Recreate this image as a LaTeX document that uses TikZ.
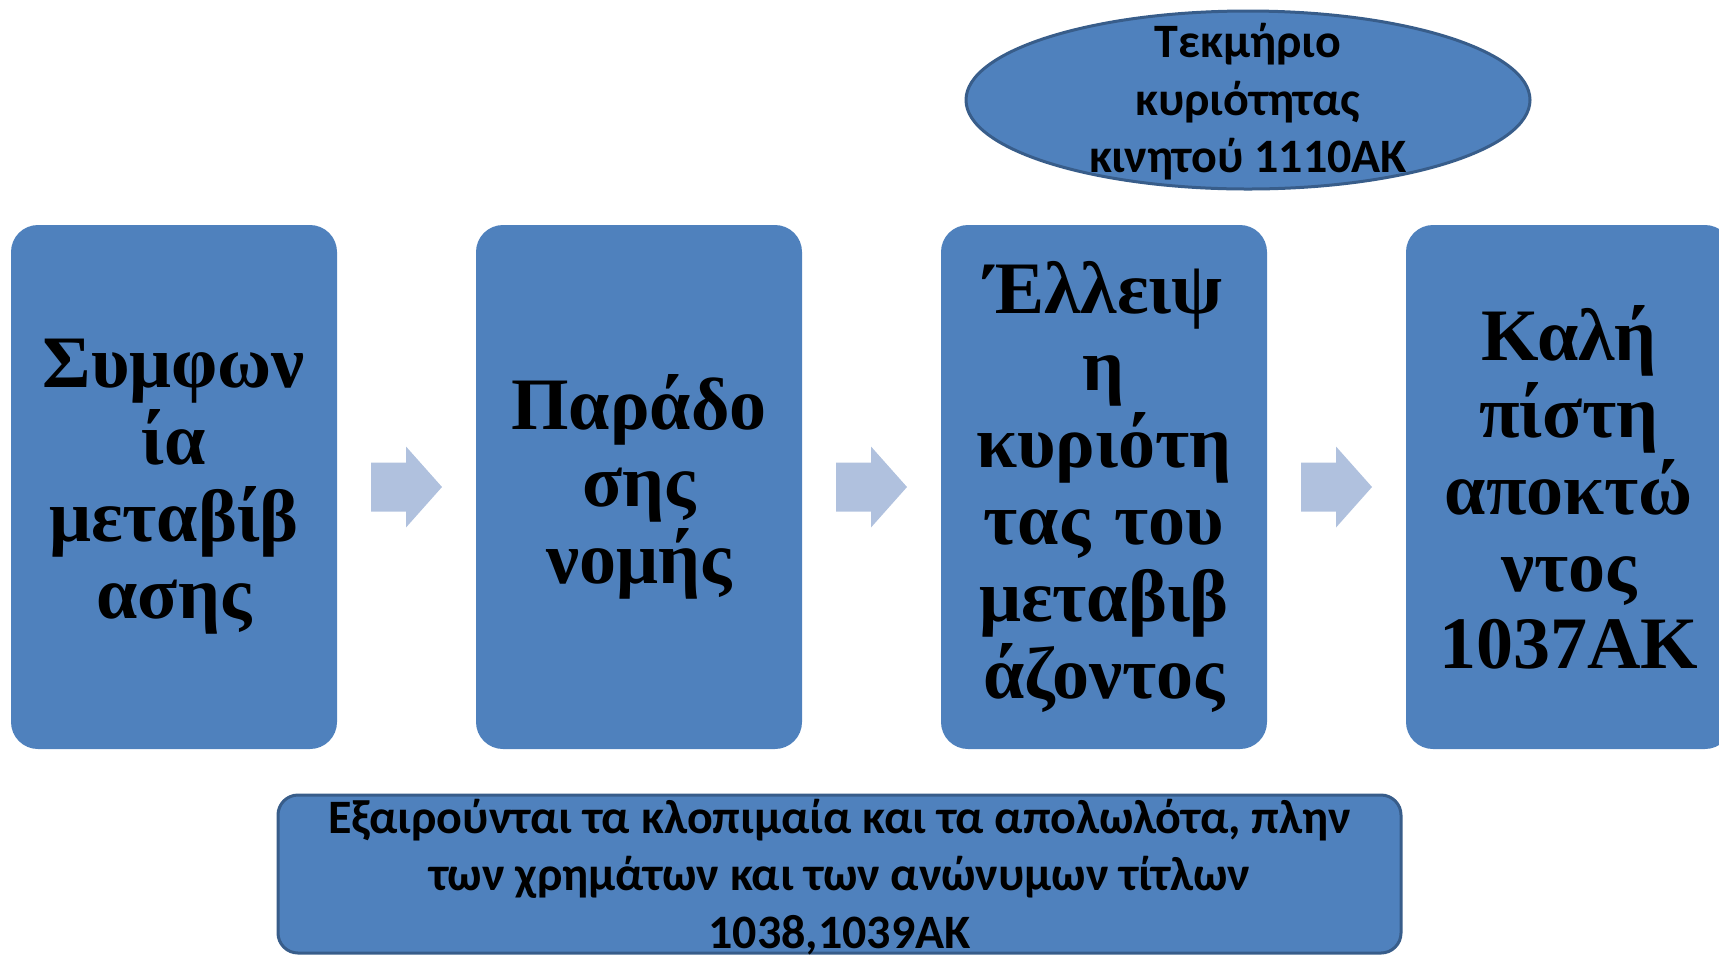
\documentclass[tikz,border=0pt]{standalone}
\usepackage{fontspec}
\setmainfont{Liberation Serif}
\newfontfamily\carlito{Carlito}
\usepackage{tikz}
\usetikzlibrary{positioning,calc,shapes.geometric}

\definecolor{vak}{RGB}{79,129,189}
\definecolor{rand}{RGB}{56,93,138}
\definecolor{pijl}{RGB}{176,193,222}

\tikzset{
	stap/.style={fill=vak, rounded corners=13.5pt, minimum width=163pt, minimum height=262pt,
		text width=163pt, align=center, inner sep=0pt, outer sep=0pt,
		font=\bfseries\fontsize{37}{38.5}\selectfont},
	randvak/.style={fill=vak, draw=rand, line width=1.5pt, inner sep=0pt, outer sep=0pt},
	tekst/.style={align=center, inner sep=0pt, font=\carlito\bfseries\fontsize{24}{28.75}\selectfont}
}

\begin{document}
\begin{tikzpicture}
			\useasboundingbox (0,0) rectangle (859.5pt,-477.5pt);
			\node[stap, anchor=north west] (b1) at (5.5pt,-112.5pt) {Συμφων\\ία\\μεταβίβ\\ασης};
			\node[stap, right=69.5pt of b1] (b2) {Παράδο\\σης\\νομής};
			\node[stap, right=69.5pt of b2] (b3) {Έλλειψ\\η\\κυριότη\\τας του\\μεταβιβ\\άζοντος};
			\node[stap, right=69.5pt of b3] (b4) {Καλή\\πίστη\\αποκτώ\\ντος\\1037ΑΚ};
			% pijlen tussen de stappen
			\foreach \a/\z in {b1/b2,b2/b3,b3/b4}
				\fill[pijl] ($(\a.east)!0.5!(\z.west)$) ++(-17.75pt,12.25pt) -- ++(17.5pt,0) -- ++(0,8pt)
					-- ++(18pt,-20.25pt) -- ++(-18pt,-20.25pt) -- ++(0,8pt) -- ++(-17.5pt,0) -- cycle;
			% tekmirio
			\node[randvak, ellipse, minimum width=282pt, minimum height=89pt, above=18pt of b3.north east, xshift=-9.5pt] (ell) {};
			\node[tekst, yshift=-1pt] (ellt) at (ell) {Τεκμήριο\\κυριότητας\\κινητού 1110ΑΚ};
			% uitzondering
			\coordinate (mid) at ($(b2.south)!0.5!(b3.south)$);
			\node[randvak, rounded corners=10pt, minimum width=561.5pt, minimum height=79pt, below=23pt of mid, xshift=-16pt] (ond) {};
			\node[tekst, yshift=-1.5pt] (ondt) at (ond) {Εξαιρούνται τα κλοπιμαία και τα απολωλότα, πλην\\των χρημάτων και των ανώνυμων τίτλων\\1038,1039ΑΚ};
		\end{tikzpicture}
\end{document}
